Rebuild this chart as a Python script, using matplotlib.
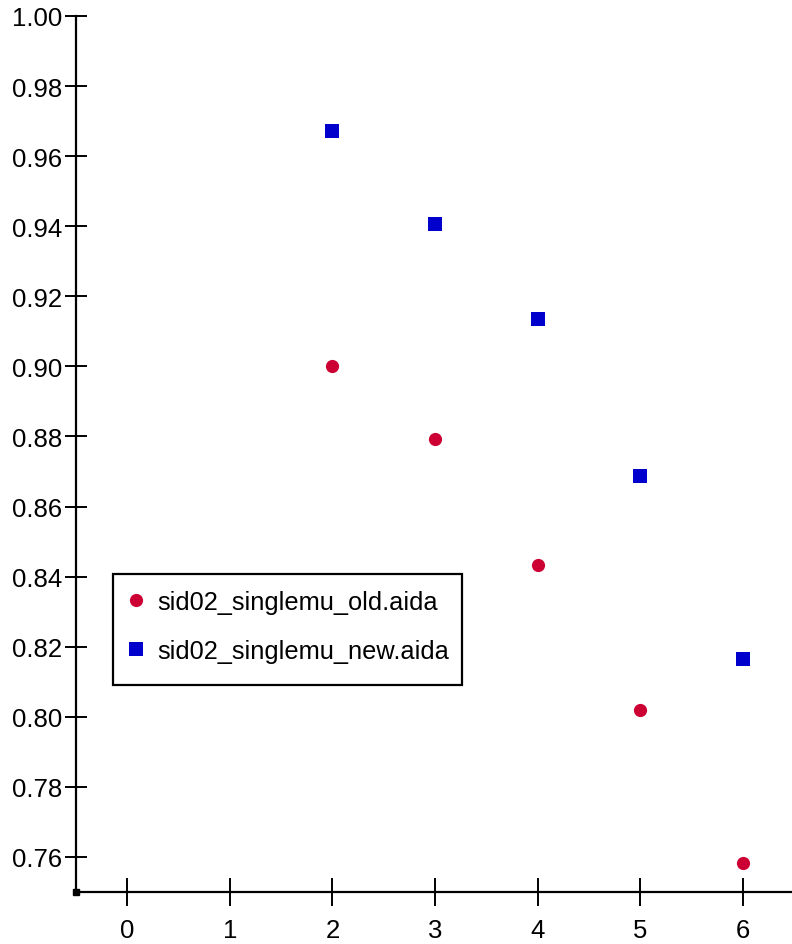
import matplotlib
matplotlib.use("Agg")
import matplotlib.pyplot as plt
from matplotlib.patches import Rectangle

plt.rcParams['font.family'] = ['Liberation Sans', 'DejaVu Sans']

x_old = [2, 3, 4, 5, 6]
y_old = [0.9001, 0.8793, 0.8433, 0.8020, 0.7583]
x_new = [2, 3, 4, 5, 6]
y_new = [0.9672, 0.9406, 0.9135, 0.8687, 0.8165]
labels = ['sid02_singlemu_old.aida', 'sid02_singlemu_new.aida']
xticks = [0, 1, 2, 3, 4, 5, 6]
yticks = [0.76, 0.78, 0.80, 0.82, 0.84, 0.86, 0.88, 0.90, 0.92, 0.94, 0.96, 0.98, 1.00]

W, H = 792, 945
fig = plt.figure(figsize=(W / 100, H / 100), dpi=100)
ax = fig.add_axes([76 / W, 1 - 893 / H, (W - 76 + 2) / W, (893 - 17) / H])

ax.plot(x_old, y_old, linestyle='none', marker='o', markersize=9.5,
        color='#CC0033', markeredgewidth=0, label=labels[0])
ax.plot(x_new, y_new, linestyle='none', marker='s', markersize=10,
        color='#0000CC', markeredgewidth=0, label=labels[1])

ax.set_xlim(-0.5, 6.5)
ax.set_ylim(0.75, 1.00)
ax.set_xticks(xticks)
ax.set_xticklabels([str(v) for v in xticks])
ax.set_yticks(yticks)
ax.set_yticklabels([f'{v:.2f}' for v in yticks])

for s in ['top', 'right']:
    ax.spines[s].set_visible(False)
for s in ['left', 'bottom']:
    ax.spines[s].set_linewidth(1.6)
ax.tick_params(axis='both', direction='inout', width=1.4,
               labelsize=18.5, color='black', labelcolor='black')
ax.tick_params(axis='y', length=16, pad=2)
ax.tick_params(axis='x', length=19.5, pad=9)

# small square at the axis origin
ax.plot([0], [0], transform=ax.transAxes, marker='s', markersize=4,
        color='black', clip_on=False)

leg = ax.legend(loc='upper left', bbox_to_anchor=(113 / W, 1 - 581 / H),
                bbox_transform=fig.transFigure, borderaxespad=0,
                frameon=False, fontsize=18.3, handletextpad=0.36,
                handlelength=1.0, borderpad=0.4, labelspacing=0.98)

frame = Rectangle((113 / W, 1 - 686 / H), 349 / W, 111 / H,
                  transform=fig.transFigure, fill=False,
                  edgecolor='black', linewidth=1.6, zorder=5)
fig.patches.append(frame)

fig.savefig('out.png', dpi=100)
